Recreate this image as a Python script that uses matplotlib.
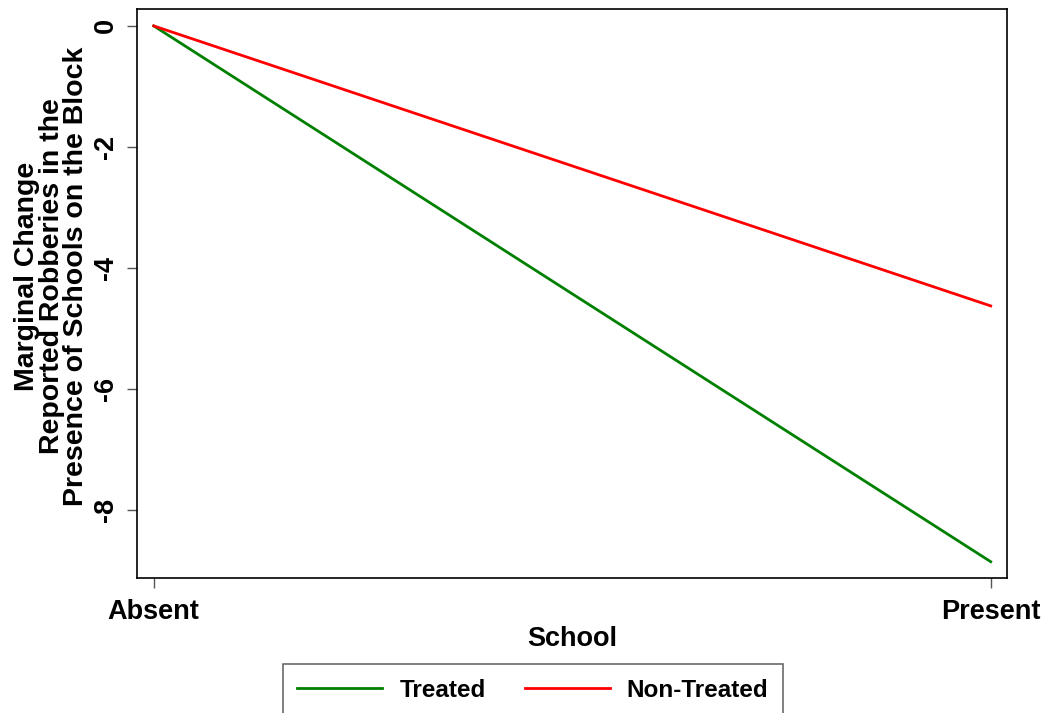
import matplotlib.pyplot as plt

# marginal effect of a school on the block, by treatment group
school = ["Absent", "Present"]
treated = [0.0, -8.86]
non_treated = [0.0, -4.63]
yticks = [0, -2, -4, -6, -8]

plt.rcParams['font.family'] = ['Liberation Sans', 'DejaVu Sans']
plt.rcParams['font.weight'] = 'bold'

fig = plt.figure(figsize=(10.49, 7.13), dpi=100)
ax = fig.add_axes([0.1306, 0.1893, 0.8294, 0.7981])

x = range(len(school))
ax.plot(x, treated, color="#008000", lw=2.0, label="Treated")
ax.plot(x, non_treated, color="#ff0000", lw=2.0, label="Non-Treated")

ax.set_xlim(-0.02, 1.0195)
ax.set_ylim(-9.13, 0.28)
ax.set_xticks(list(x))
ax.set_xticklabels(school, fontsize=19.5, fontweight='bold')
ax.set_yticks(yticks)
ax.set_yticklabels([str(v) for v in yticks], fontsize=19.5, fontweight='bold',
                   rotation=90, va='center')
ax.tick_params(length=7, width=1, color='#555555', pad=6)
ax.tick_params(axis='x', pad=8)
for s in ax.spines.values():
    s.set_linewidth(1.2)
    s.set_color('black')

ax.set_xlabel("School", fontsize=19.5, fontweight='bold', labelpad=1)
ax.set_ylabel("Marginal Change\nReported Robberies in the\nPresence of Schools on the Block",
              fontsize=20.5, fontweight='bold', linespacing=0.92)
ax.yaxis.set_label_coords(-0.055, 0.53)

leg = fig.legend(loc='upper center', bbox_to_anchor=(0.508, 0.0687), ncol=2,
                 fancybox=False, edgecolor='#444444', handlelength=3.5,
                 columnspacing=1.6, handletextpad=0.7, borderpad=0.6,
                 borderaxespad=0, prop={'size': 17.5, 'weight': 'bold'})
leg.get_frame().set_linewidth(1.2)

fig.savefig("out.png", dpi=100)
